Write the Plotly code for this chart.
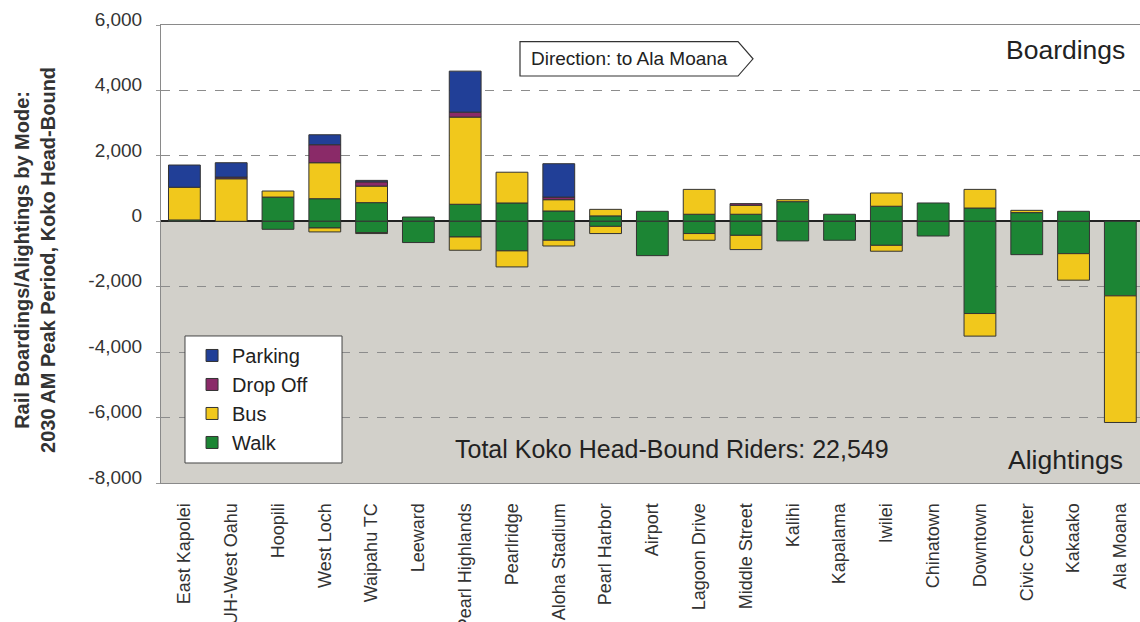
import plotly.graph_objects as go

# Stations along the line, in Koko Head-bound order
stations = ["East Kapolei", "UH-West Oahu", "Hoopili", "West Loch", "Waipahu TC",
            "Leeward", "Pearl Highlands", "Pearlridge", "Aloha Stadium", "Pearl Harbor",
            "Airport", "Lagoon Drive", "Middle Street", "Kalihi", "Kapalama", "Iwilei",
            "Chinatown", "Downtown", "Civic Center", "Kakaako", "Ala Moana"]

# Boardings by access mode (riders)
walk_on = [40, None, 740, 690, 570, 130, 520, 560, 315, 165, 305, 215, 215, 600, 215, 460, 560, 405, 265, 305, None]
bus_on = [1000, 1300, 185, 1100, 505, None, 2665, 940, 345, 200, None, 760, 275, 60, None, 405, None, 570, 70, None, None]
drop_on = [None, 50, None, 550, 130, None, 150, None, 80, None, None, None, 50, None, None, None, None, None, None, None, None]
park_on = [680, 440, None, 305, 45, None, 1255, None, 1020, None, None, None, None, None, None, None, None, None, None, None, None]

# Alightings by egress mode (negative = riders leaving the train)
walk_off = [None, None, -245, -205, -345, -650, -480, -905, -580, -155, -1050, -375, -430, -600, -580, -735, -450, -2820, -1020, -990, -2280]
bus_off = [None, None, None, -120, -30, None, -405, -490, -175, -220, None, -205, -435, None, None, -180, None, -690, None, -810, -3870]

y_ticks = [6000, 4000, 2000, 0, -2000, -4000, -6000, -8000]
y_tick_text = ["6,000", "4,000", "2,000", "0", "-2,000", "-4,000", "-6,000", "-8,000"]

total_riders = "22,549"

COLORS = {"Parking": "#213f97", "Drop Off": "#8a2a68", "Bus": "#f1c81c", "Walk": "#1c8534"}
FONT = "Liberation Sans, Arial, sans-serif"
OUTLINE = dict(color="#333333", width=1)
BAR_W = 0.68

fig = go.Figure()

series = [
    ("Walk", walk_on, True, 4),
    ("Walk", walk_off, False, 4),
    ("Bus", bus_on, True, 3),
    ("Bus", bus_off, False, 3),
    ("Drop Off", drop_on, True, 2),
    ("Parking", park_on, True, 1),
]
for name, vals, show, rank in series:
    fig.add_trace(go.Bar(
        x=stations, y=vals, name=name, legendgroup=name, showlegend=show,
        legendrank=rank, width=BAR_W,
        marker=dict(color=COLORS[name], line=OUTLINE),
        hovertemplate="%{x}<br>" + name + ": %{y:,}<extra></extra>",
    ))

# Grey band marking the alightings half of the chart
fig.add_shape(type="rect", xref="paper", yref="y", x0=0, x1=1, y0=-8000, y1=0,
              fillcolor="#d2d0ca", line=dict(width=0), layer="below")

# White framed panel behind the legend entries
fig.add_shape(type="rect", xref="paper", yref="paper", x0=0.0245, x1=0.1849, y0=0.0437, y1=0.321,
              fillcolor="white", line=dict(color="#444444", width=1), layer="above")

# Direction tag drawn as a pointed label box
fig.add_shape(type="path", xref="paper", yref="paper",
              path="M 0.3667 0.9636 L 0.5894 0.9636 L 0.6047 0.9261 L 0.5894 0.8886 "
                   "L 0.3667 0.8886 Z",
              fillcolor="white", line=dict(color="#333333", width=1.2), layer="above")

fig.add_annotation(text="Direction: to Ala Moana", xref="paper", yref="paper",
                   x=0.4781, y=0.9261, xanchor="center", yanchor="middle", showarrow=False,
                   font=dict(family=FONT, size=19, color="#222222"))
fig.add_annotation(text="Boardings", xref="paper", yref="paper",
                   x=0.9867, y=0.945, xanchor="right", yanchor="middle", showarrow=False,
                   font=dict(family=FONT, size=26.5, color="#222222"))
fig.add_annotation(text="Alightings", xref="paper", yref="paper",
                   x=0.9847, y=0.05, xanchor="right", yanchor="middle", showarrow=False,
                   font=dict(family=FONT, size=26.5, color="#222222"))
fig.add_annotation(text="Total Koko Head-Bound Riders: " + total_riders, xref="paper", yref="paper",
                   x=0.2983, y=0.074, xanchor="left", yanchor="middle", showarrow=False,
                   font=dict(family=FONT, size=25, color="#222222"))
fig.add_annotation(text="<b>Rail Boardings/Alightings by Mode:<br>2030 AM Peak Period, Koko Head-Bound</b>",
                   xref="paper", yref="paper", x=-0.1287, y=0.487, xanchor="center",
                   yanchor="middle", textangle=-90, showarrow=False,
                   font=dict(family=FONT, size=20, color="#333333"))

fig.update_layout(
    width=1140, height=622,
    margin=dict(l=161, r=0, t=25, b=139),
    barmode="relative",
    paper_bgcolor="white", plot_bgcolor="white",
    font=dict(family=FONT, color="#333333"),
    legend=dict(x=0.0317, y=0.321, xanchor="left", yanchor="top",
                bgcolor="rgba(0,0,0,0)", borderwidth=0,
                font=dict(family=FONT, size=20, color="#222222"),
                tracegroupgap=0, traceorder="grouped"),
    xaxis=dict(range=[-0.5, 20.42], tickangle=-90, automargin=False,
               tickfont=dict(family=FONT, size=18, color="#333333"),
               showline=True, linecolor="#8a8a8a", linewidth=1, mirror=True,
               showgrid=False, ticks="", ticklabelstandoff=12),
    yaxis=dict(range=[-8000, 6000], tickvals=y_ticks, ticktext=y_tick_text,
               automargin=False, tickfont=dict(family=FONT, size=19, color="#333333"),
               showline=True, linecolor="#8a8a8a", linewidth=1,
               ticks="outside", ticklen=4, tickcolor="#9a9a9a", ticklabelstandoff=10,
               ticklabelshift=-6,
               showgrid=True, gridcolor="#8c8c8c", griddash="dash", gridwidth=1,
               zeroline=True, zerolinecolor="#222222", zerolinewidth=1.5),
)

fig.write_html("out.html")
